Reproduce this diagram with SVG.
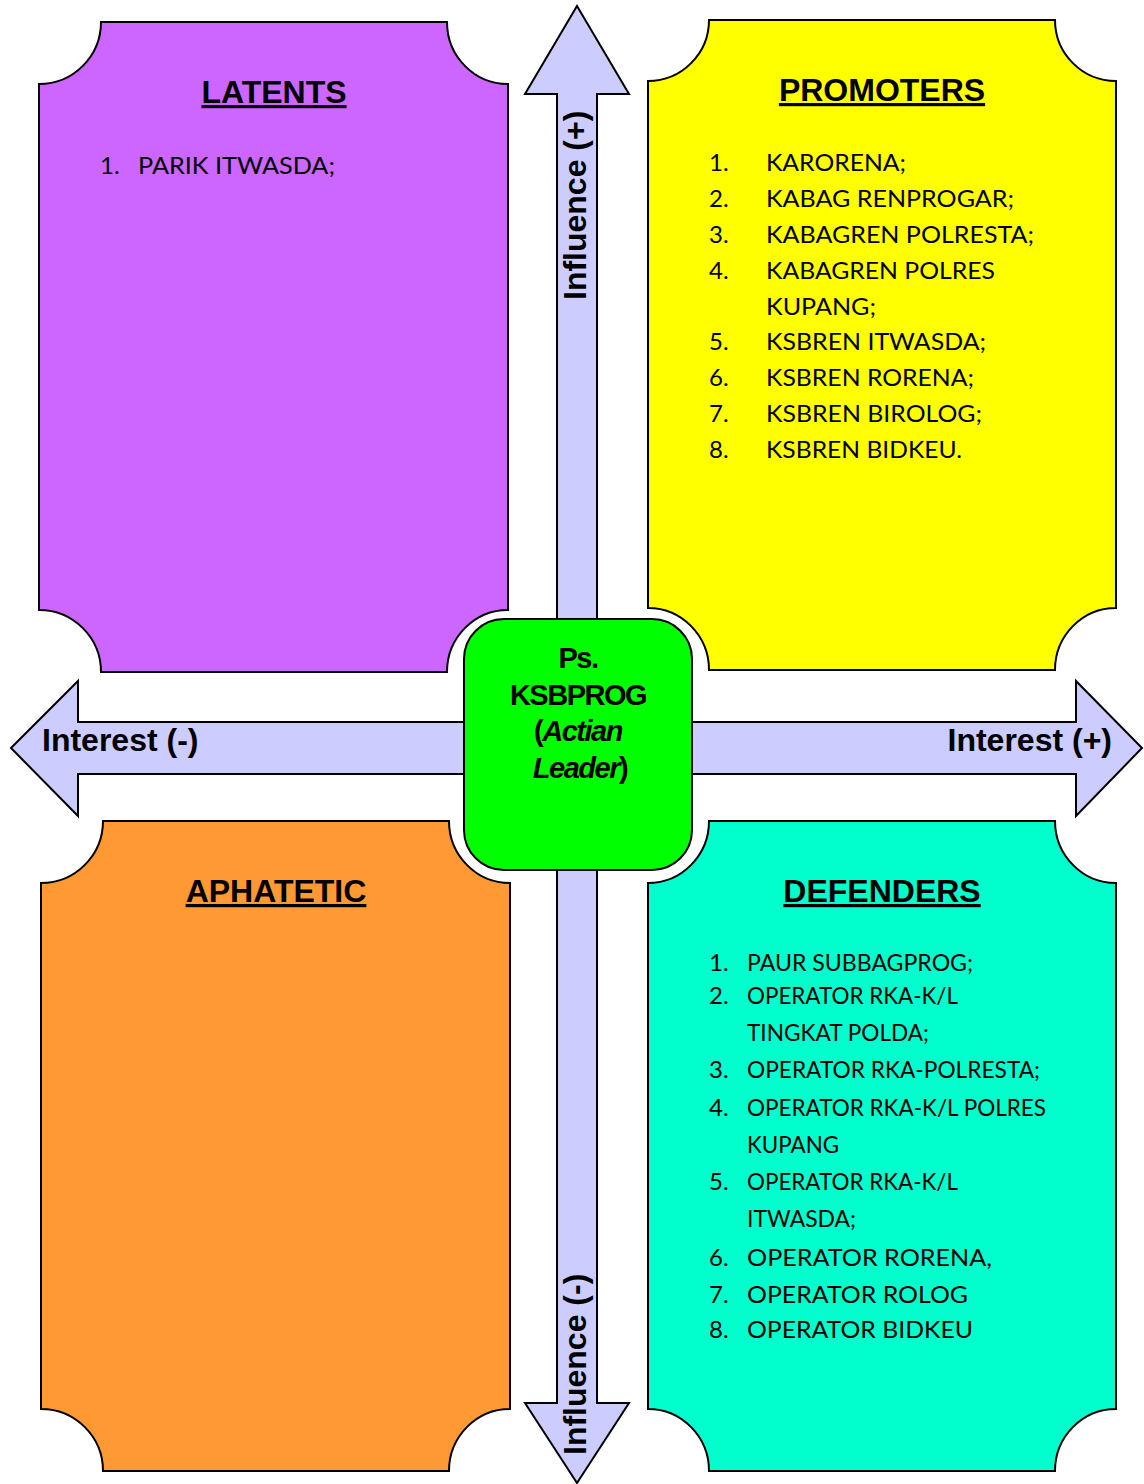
<svg xmlns="http://www.w3.org/2000/svg" width="1144" height="1484" viewBox="0 0 1144 1484">
<style>
.panel{stroke:#000;stroke-width:2}
.arrow{fill:#CCCCFF;stroke:#000;stroke-width:2;stroke-linejoin:miter}
.head{font-family:"Liberation Sans",Arial,sans-serif;font-weight:bold;font-size:32px;text-decoration:underline;text-anchor:middle;fill:#000}
.lbl{font-family:"Liberation Sans",Arial,sans-serif;font-weight:bold;font-size:32px;fill:#000}
.item{font-family:Lato,"Noto Sans",sans-serif;font-size:24px;fill:#000}
.ctr{font-family:"Liberation Sans",Arial,sans-serif;font-weight:bold;font-size:29px;text-anchor:middle;fill:#000;letter-spacing:-1.5px}
</style>
<rect width="1144" height="1484" fill="#fff"/>
<g id="connectors">
  <polygon class="arrow" points="577,6 629,94 597,94 597,1403 629,1403 577,1483 525,1403 557,1403 557,94 525,94"/>
  <polygon class="arrow" points="11,748 78,681 78,722 1076,722 1076,681 1142,748 1076,816 1076,774 78,774 78,816"/>
  <text class="lbl" x="42" y="751">Interest (-)</text>
  <text class="lbl" x="1112" y="751" text-anchor="end">Interest (+)</text>
  <text class="lbl" transform="translate(586,300) rotate(-90)">Influence (+)</text>
  <text class="lbl" transform="translate(586,1455) rotate(-90)">Influence (-)</text>
</g>
<g id="latents">
  <path class="panel" fill="#CC66FF" d="M101,22 H447 A61 62 0 0 0 508,84 V610 A61 62 0 0 0 447,672 H101 A62 62 0 0 0 39,610 V84 A62 62 0 0 0 101,22 Z"/>
  <text class="head" x="274" y="103">LATENTS</text>
  <text class="item" x="100" y="174">1.</text>
  <text class="item" x="138" y="174" textLength="197" lengthAdjust="spacingAndGlyphs">PARIK ITWASDA;</text>
</g>
<g id="promoters">
  <path class="panel" fill="#FFFF00" d="M709,20 H1055 A61 61 0 0 0 1116,81 V608 A61 62 0 0 0 1055,670 H709 A61 62 0 0 0 648,608 V81 A61 61 0 0 0 709,20 Z"/>
  <text class="head" x="882" y="101">PROMOTERS</text>
  <g class="item">
    <text x="709" y="171">1.</text><text x="766" y="171" textLength="140" lengthAdjust="spacingAndGlyphs">KARORENA;</text>
    <text x="709" y="207">2.</text><text x="766" y="207" textLength="248" lengthAdjust="spacingAndGlyphs">KABAG RENPROGAR;</text>
    <text x="709" y="243">3.</text><text x="766" y="243" textLength="268" lengthAdjust="spacingAndGlyphs">KABAGREN POLRESTA;</text>
    <text x="709" y="279">4.</text><text x="766" y="279" textLength="229" lengthAdjust="spacingAndGlyphs">KABAGREN POLRES</text>
    <text x="766" y="315" textLength="110" lengthAdjust="spacingAndGlyphs">KUPANG;</text>
    <text x="709" y="350">5.</text><text x="766" y="350" textLength="220" lengthAdjust="spacingAndGlyphs">KSBREN ITWASDA;</text>
    <text x="709" y="386">6.</text><text x="766" y="386" textLength="208" lengthAdjust="spacingAndGlyphs">KSBREN RORENA;</text>
    <text x="709" y="422">7.</text><text x="766" y="422" textLength="216" lengthAdjust="spacingAndGlyphs">KSBREN BIROLOG;</text>
    <text x="709" y="458">8.</text><text x="766" y="458" textLength="196" lengthAdjust="spacingAndGlyphs">KSBREN BIDKEU.</text>
  </g>
</g>
<g id="aphatetic">
  <path class="panel" fill="#FF9933" d="M103,821 H449 A61 62 0 0 0 510,883 V1409 A61 62 0 0 0 449,1471 H103 A62 62 0 0 0 41,1409 V883 A62 62 0 0 0 103,821 Z"/>
  <text class="head" x="276" y="902">APHATETIC</text>
</g>
<g id="defenders">
  <path class="panel" fill="#00FFCC" d="M709,821 H1055 A61 62 0 0 0 1116,883 V1409 A61 62 0 0 0 1055,1471 H709 A61 62 0 0 0 648,1409 V883 A61 62 0 0 0 709,821 Z"/>
  <text class="head" x="882" y="902">DEFENDERS</text>
  <g class="item">
    <text x="709" y="971">1.</text><text x="747" y="971" textLength="226" lengthAdjust="spacingAndGlyphs">PAUR SUBBAGPROG;</text>
    <text x="709" y="1004">2.</text><text x="747" y="1004" textLength="211" lengthAdjust="spacingAndGlyphs">OPERATOR RKA-K/L</text>
    <text x="747" y="1041" textLength="182" lengthAdjust="spacingAndGlyphs">TINGKAT POLDA;</text>
    <text x="709" y="1078">3.</text><text x="747" y="1078" textLength="293" lengthAdjust="spacingAndGlyphs">OPERATOR RKA-POLRESTA;</text>
    <text x="709" y="1116">4.</text><text x="747" y="1116" textLength="299" lengthAdjust="spacingAndGlyphs">OPERATOR RKA-K/L POLRES</text>
    <text x="747" y="1153" textLength="92" lengthAdjust="spacingAndGlyphs">KUPANG</text>
    <text x="709" y="1190">5.</text><text x="747" y="1190" textLength="211" lengthAdjust="spacingAndGlyphs">OPERATOR RKA-K/L</text>
    <text x="747" y="1227" textLength="109" lengthAdjust="spacingAndGlyphs">ITWASDA;</text>
    <text x="709" y="1266">6.</text><text x="747" y="1266" textLength="245" lengthAdjust="spacingAndGlyphs">OPERATOR RORENA,</text>
    <text x="709" y="1303">7.</text><text x="747" y="1303" textLength="221" lengthAdjust="spacingAndGlyphs">OPERATOR ROLOG</text>
    <text x="709" y="1338">8.</text><text x="747" y="1338" textLength="226" lengthAdjust="spacingAndGlyphs">OPERATOR BIDKEU</text>
  </g>
</g>
<g id="center">
  <rect x="464" y="619" width="228" height="251" rx="40" ry="40" fill="#00FF00" stroke="#000" stroke-width="2"/>
  <text class="ctr" x="578" y="668">Ps.</text>
  <text class="ctr" x="578" y="705">KSBPROG</text>
  <text class="ctr" x="578" y="741">(<tspan font-style="italic">Actian</tspan></text>
  <text class="ctr" x="580" y="778"><tspan font-style="italic">Leader</tspan>)</text>
</g>
</svg>
